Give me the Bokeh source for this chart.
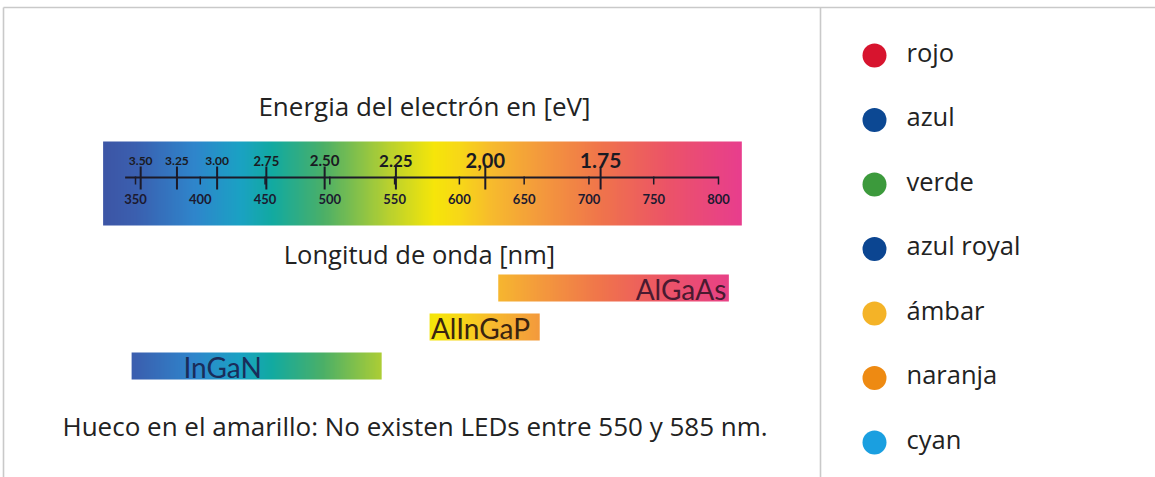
import numpy as np
from bokeh.plotting import figure
from bokeh.models import Range1d
from bokeh.core.properties import value
from bokeh.embed import file_html
from bokeh.resources import INLINE

# ---------------- data ----------------
wavelength_ticks = [350, 400, 450, 500, 550, 600, 650, 700, 750, 800]
wavelength_labels = ["350", "400", "450", "500", "550", "600", "650", "700", "750", "800"]
energy_labels = ["3.50", "3.25", "3.00", "2.75", "2.50", "2.25", "2,00", "1.75"]
energy_nm = [354, 382, 413, 451, 496, 551, 620, 709]
spectrum_range = [325, 818]
materials = ["AlGaAs", "AlInGaP", "InGaN"]
material_start = [630, 577, 347]
material_end = [808, 662, 540]
legend_names = ["rojo", "azul", "verde", "azul royal", "ámbar", "naranja", "cyan"]
legend_colors = ["#d7142e", "#0c4893", "#3c9a3c", "#0b4591", "#f4b327", "#ee8a12", "#1a9fe0"]

# ---------------- style ----------------
FONT = "Lato"
TFONT = "Open Sans"
grad_nm = [325, 350, 395, 430, 455, 495, 545, 580, 600, 625, 660, 710, 760, 818]
grad_col = ["#3d56a6", "#3b60b0", "#2f86cc", "#1ba2c4", "#12aaa2", "#4cb068", "#b8d130",
            "#f6e60a", "#f8d818", "#f7bb2e", "#f49c3c", "#f0744c", "#ec5468", "#e83e8e"]
energy_sizes = [12, 12, 12, 13, 15, 17, 20, 21]
material_text_colors = ["#4a1a30", "#3a2410", "#1a2d5a"]

W, H = 1155, 477
X0, Y0 = 0, 0          # page offset


def Y(py):             # page y pixel -> data y
    return (Y0 + H) - py


def hex2rgb(h):
    h = h.lstrip("#")
    return [int(h[i:i + 2], 16) for i in (0, 2, 4)]


grad_rgb = np.array([hex2rgb(c) for c in grad_col], dtype=float)


def gradient_image(lo, hi, n=400):
    xs = np.linspace(lo, hi, n)
    img = np.empty((1, n), dtype=np.uint32)
    view = img.view(dtype=np.uint8).reshape((1, n, 4))
    for k in range(3):
        view[0, :, k] = np.interp(xs, grad_nm, grad_rgb[:, k]).astype(np.uint8)
    view[0, :, 3] = 255
    return img


# nm scale: 350 nm -> page x 135, 800 nm -> page x 718
px_per_nm = (718 - 135) / (800 - 350)
nm_lo = 350 - (135 - X0) / px_per_nm
nm_hi = 350 + (X0 + W - 135) / px_per_nm

p = figure(width=W, height=H, output_backend="svg", toolbar_location=None,
           x_range=Range1d(X0, X0 + W), y_range=Range1d(0, H),
           x_axis_type=None, y_axis_type=None, min_border=0)
p.extra_x_ranges = {"nm": Range1d(nm_lo, nm_hi)}
p.grid.visible = False
p.outline_line_color = None
p.background_fill_color = "white"
p.border_fill_color = "white"

# frame lines
p.segment(x0=[3, 3, 820], y0=[Y(7), Y(7), Y(7)],
          x1=[W, 3, 820], y1=[Y(7), Y(480), Y(480)],
          line_color="#c9c9c9", line_width=1.6)

# spectrum
p.image_rgba(image=[gradient_image(spectrum_range[0], spectrum_range[1], 600)],
             x=spectrum_range[0], y=Y(225), dw=spectrum_range[1] - spectrum_range[0],
             dh=225 - 141, x_range_name="nm")

# axis line inside spectrum
p.segment(x0=[342], y0=[Y(177)], x1=[wavelength_ticks[-1]], y1=[Y(177)],
          line_color="#1c1a28", line_width=2, x_range_name="nm")
p.segment(x0=wavelength_ticks, y0=[Y(176)] * len(wavelength_ticks),
          x1=wavelength_ticks, y1=[Y(184)] * len(wavelength_ticks),
          line_color="#1c1a28", line_width=1.5, x_range_name="nm")
p.segment(x0=energy_nm, y0=[Y(166)] * len(energy_nm),
          x1=energy_nm, y1=[Y(189)] * len(energy_nm),
          line_color="#1c1a28", line_width=2, x_range_name="nm")

p.text(x=wavelength_ticks, y=[Y(198)] * len(wavelength_ticks), text=wavelength_labels,
       text_font=value(FONT), text_font_style="bold", text_font_size="13px",
       text_color="#1c1a30", text_align="center", text_baseline="middle",
       x_range_name="nm")

for e_nm, lab, sz in zip(energy_nm, energy_labels, energy_sizes):
    p.text(x=[e_nm], y=[Y(160)], text=[lab], text_font=value(FONT),
           text_font_style="bold", text_font_size=f"{sz}px", text_color="#1a1a22",
           text_align="center", text_baseline="alphabetic", x_range_name="nm")

# titles
p.text(x=[424], y=[Y(105)], text=["Energia del electrón en [eV]"], text_font=value(TFONT),
       text_font_size="26px", text_color="#222222", text_align="center", text_baseline="middle")
p.text(x=[419], y=[Y(253)], text=["Longitud de onda [nm]"], text_font=value(TFONT),
       text_font_size="25.5px", text_color="#222222", text_align="center", text_baseline="middle")
p.text(x=[62], y=[Y(425)], text=["Hueco en el amarillo: No existen LEDs entre 550 y 585 nm."],
       text_font=value(TFONT), text_font_size="26px", text_color="#222222",
       text_align="left", text_baseline="middle")

# material bars
bar_tops = [274, 313, 352]
bar_h = 27
for i, (name, lo, hi) in enumerate(zip(materials, material_start, material_end)):
    top = bar_tops[i]
    p.image_rgba(image=[gradient_image(lo, hi, 300)], x=lo, y=Y(top + bar_h),
                 dw=hi - lo, dh=bar_h, x_range_name="nm")
mid = [Y(t + bar_h / 2 + 1) for t in bar_tops]
p.text(x=[material_end[0] - 2], y=[mid[0]], text=[materials[0]], text_font=value(FONT),
       text_font_size="28px", text_color=material_text_colors[0], text_align="right",
       text_baseline="middle", x_range_name="nm")
p.text(x=[material_start[1] + 1], y=[mid[1]], text=[materials[1]], text_font=value(FONT),
       text_font_size="28px", text_color=material_text_colors[1], text_align="left",
       text_baseline="middle", x_range_name="nm")
p.text(x=[material_start[2] + 40], y=[mid[2]], text=[materials[2]], text_font=value(FONT),
       text_font_size="28px", text_color=material_text_colors[2], text_align="left",
       text_baseline="middle", x_range_name="nm")

# legend
leg_y = [55 + i * 64.5 for i in range(len(legend_names))]
p.scatter(x=[874] * len(legend_names), y=[Y(v) for v in leg_y], size=24,
          fill_color=legend_colors, line_color=None, marker="circle")
p.text(x=[906] * len(legend_names), y=[Y(v - 4) for v in leg_y], text=legend_names,
       text_font=value(TFONT), text_font_size="25.5px", text_color="#222222",
       text_align="left", text_baseline="middle")

open("out.html", "w").write(file_html(p, INLINE))
